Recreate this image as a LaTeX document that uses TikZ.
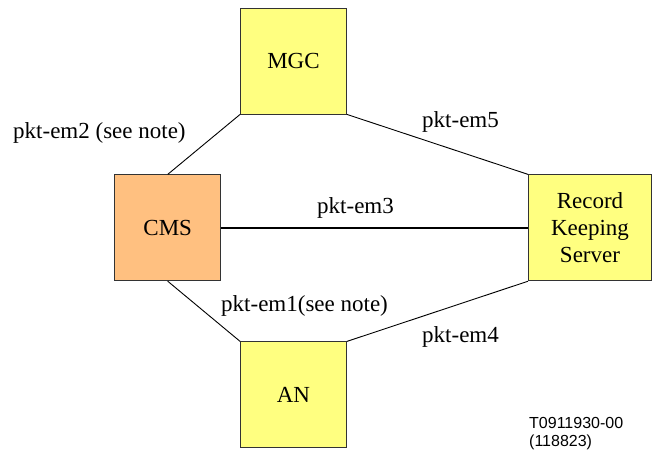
\documentclass[tikz,border=0pt]{standalone}
\usepackage{fontspec}
\setmainfont{Liberation Serif}
\newfontfamily\tagfont{Liberation Sans}
\usetikzlibrary{positioning}

\definecolor{unityellow}{HTML}{FFFF80}
\definecolor{cmsorange}{HTML}{FFC080}

\begin{document}
\begin{tikzpicture}[x=1pt,y=-1pt,
        every node/.style={font=\fontsize{23}{27}\selectfont},
        unit/.style={draw=black!80,line width=0.8pt,fill=unityellow,minimum width=106pt,minimum height=106pt,inner sep=0pt,align=center},
        link/.style={line width=0.9pt},
        lbl/.style={anchor=base west,inner sep=0pt}]
        \useasboundingbox (0,0) rectangle (653,450);

        \node[unit] (mgc) at (293.5,61) {MGC};
        \node[unit,fill=cmsorange] (cms) [below left=60pt and 19pt of mgc] {CMS};
        \node[unit,minimum width=123pt] (rks) [right=307pt of cms] {Record\\Keeping\\Server};
        \node[unit] (an) [below=227pt of mgc] {AN};

        \draw [link] (cms.north) to (mgc.south west);
        \draw [link] (mgc.south east) to (rks.north west);
        \draw [link,line width=1.5pt] (cms.east) to (rks.west);
        \draw [link] (cms.south) to (an.north west);
        \draw [link] (an.north east) to (rks.south west);

        \node[lbl] (em2) at (13,138) {pkt-em2 (see note)};
        \node[lbl] (em5) at (422,127) {pkt-em5};
        \node[lbl] (em3) at (317,213) {pkt-em3};
        \node[lbl] (em1) at (221,311) {pkt-em1(see note)};
        \node[lbl] (em4) at (422,342) {pkt-em4};
        \node[anchor=north west,inner sep=0pt,align=left,font=\tagfont\fontsize{16}{18}\selectfont] (tag) at (529,417.5) {T0911930-00\\(118823)};
\end{tikzpicture}
\end{document}
